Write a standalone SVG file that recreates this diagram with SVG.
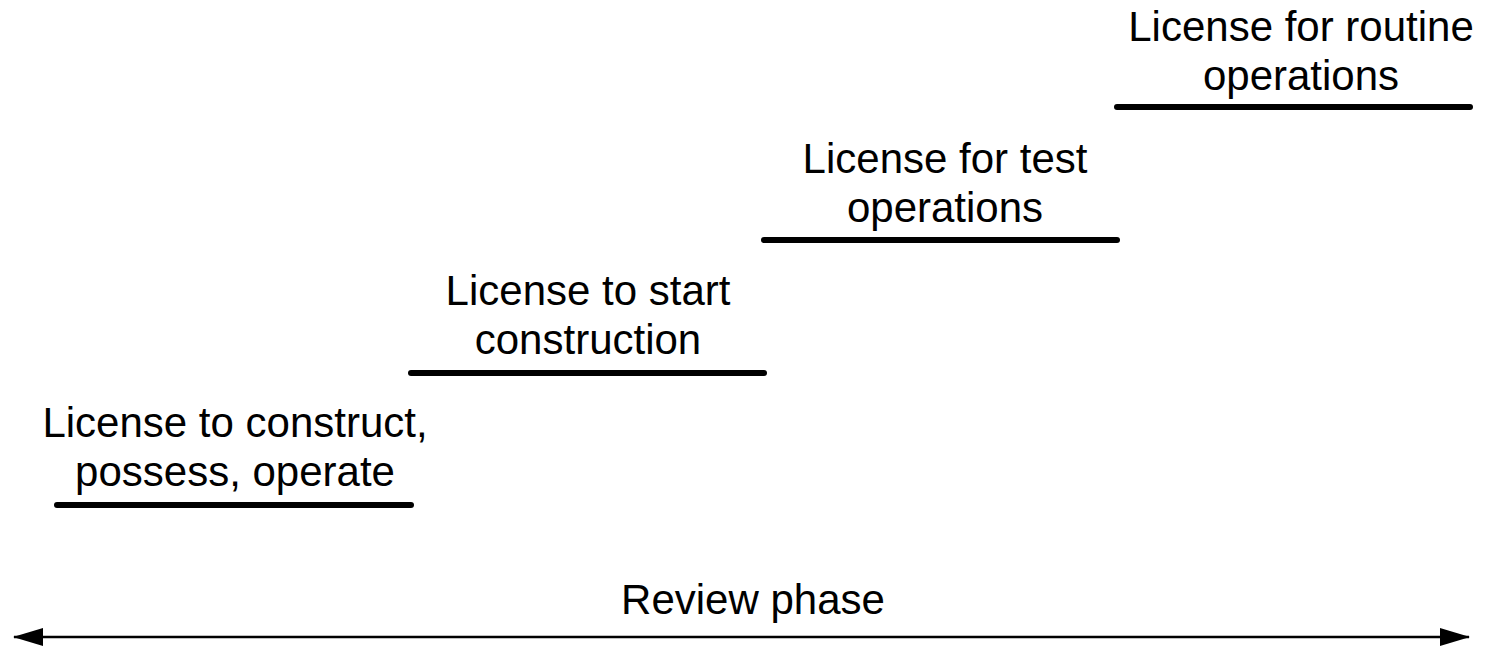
<svg xmlns="http://www.w3.org/2000/svg" width="1490" height="648" viewBox="0 0 1490 648">
<defs>
<style>
text{font-family:"Liberation Sans",Arial,sans-serif;font-size:42px;fill:#000;text-anchor:middle}
.bar{stroke:#000;stroke-width:6;stroke-linecap:round;fill:none}
.axis{stroke:#000;stroke-width:2.5;fill:none}
</style>
<marker id="ah" viewBox="0 0 30 18" refX="29" refY="9" markerWidth="30" markerHeight="18" markerUnits="userSpaceOnUse" orient="auto-start-reverse">
<path d="M0,0 L30,9 L0,18 Z" fill="#000"/>
</marker>
</defs>
<rect width="1490" height="648" fill="#fff"/>
<g id="n1">
<text x="235" y="437">License to construct,</text>
<text x="235" y="486">possess, operate</text>
<line class="bar" x1="57" y1="505" x2="411" y2="505"/>
</g>
<g id="n2">
<text x="588" y="305">License to start</text>
<text x="588" y="354">construction</text>
<line class="bar" x1="411" y1="373" x2="764" y2="373"/>
</g>
<g id="n3">
<text x="945" y="173">License for test</text>
<text x="945" y="222">operations</text>
<line class="bar" x1="764" y1="240" x2="1117" y2="240"/>
</g>
<g id="n4">
<text x="1301" y="41">License for routine</text>
<text x="1301" y="90">operations</text>
<line class="bar" x1="1117" y1="107" x2="1470" y2="107"/>
</g>
<g id="n5">
<text x="753" y="614">Review phase</text>
</g>
<g id="connectors">
<line class="axis" x1="14" y1="637" x2="1469" y2="637" marker-start="url(#ah)" marker-end="url(#ah)"/>
</g>
</svg>
